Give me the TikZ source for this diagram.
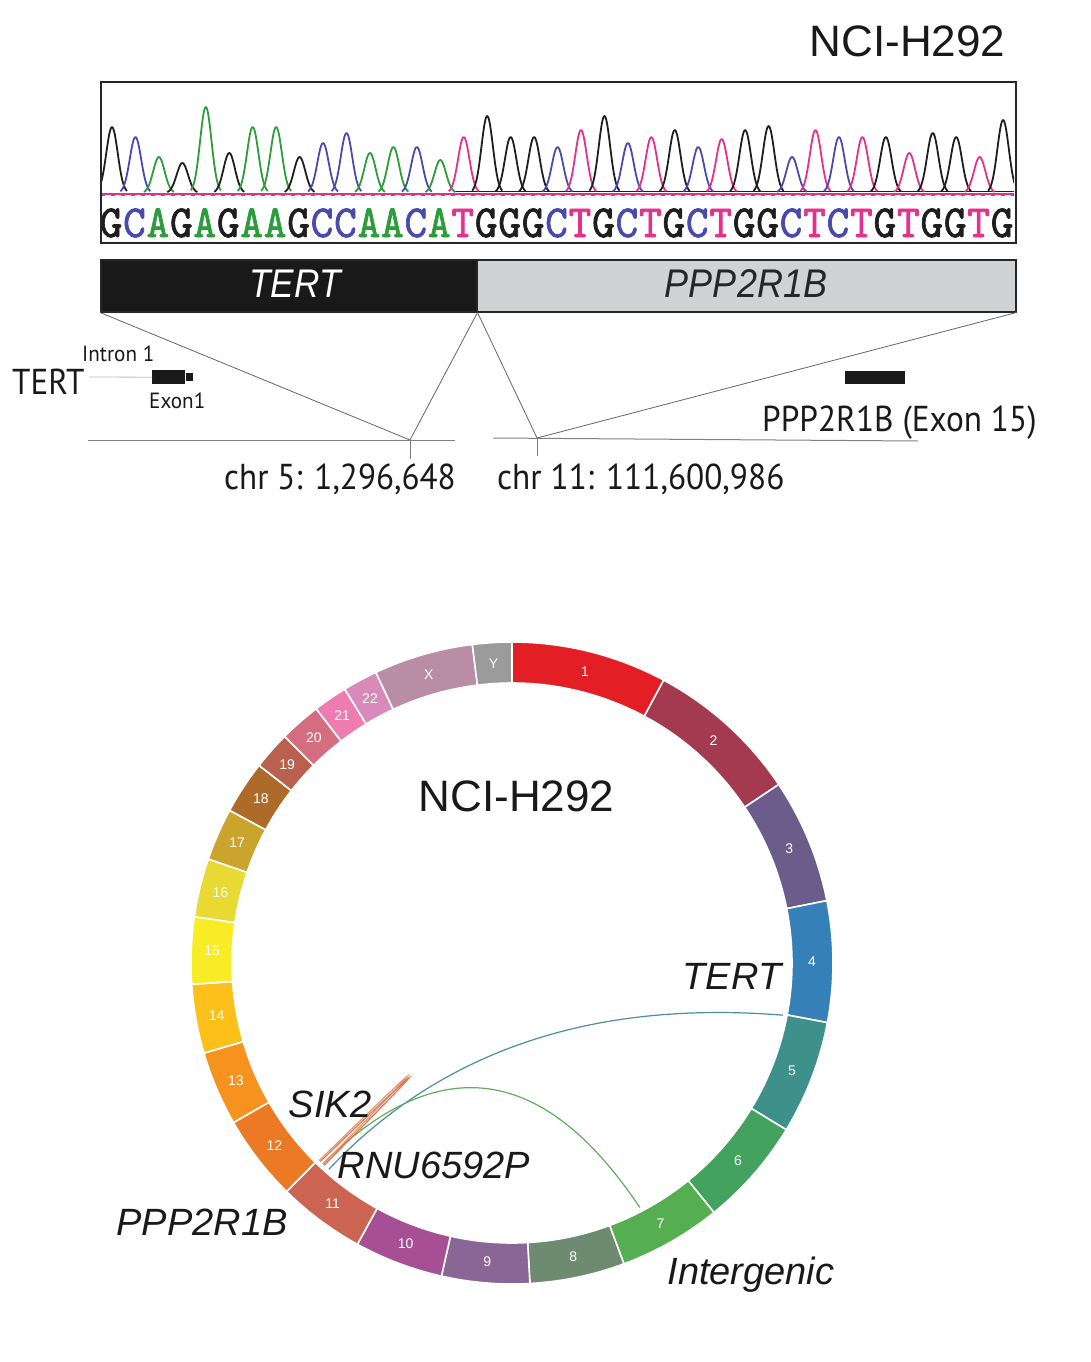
\documentclass[tikz,border=0pt]{standalone}
\usepackage{fontspec}
\setmainfont{Liberation Sans}
\newfontfamily\myr{PT Sans}
\newfontfamily\seqf{lmmono10-regular}[Extension=.otf, FakeBold=1.6]
\usetikzlibrary{calc}
\definecolor{tG}{HTML}{1E1E1E}
\definecolor{tC}{HTML}{4A4AAE}
\definecolor{tA}{HTML}{2C9C3C}
\definecolor{tT}{HTML}{E5318B}
\definecolor{barg}{HTML}{D1D2D4}
\definecolor{k1}{HTML}{E31E24}
\definecolor{k2}{HTML}{A43A50}
\definecolor{k3}{HTML}{6C5C8C}
\definecolor{k4}{HTML}{3580B8}
\definecolor{k5}{HTML}{3D918A}
\definecolor{k6}{HTML}{43A35E}
\definecolor{k7}{HTML}{55AE4F}
\definecolor{k8}{HTML}{6E8A70}
\definecolor{k9}{HTML}{8A6696}
\definecolor{k10}{HTML}{A64F94}
\definecolor{k11}{HTML}{CB6552}
\definecolor{k12}{HTML}{EC7A24}
\definecolor{k13}{HTML}{F6921E}
\definecolor{k14}{HTML}{FDBF19}
\definecolor{k15}{HTML}{F8EC24}
\definecolor{k16}{HTML}{E8DA32}
\definecolor{k17}{HTML}{CBA42E}
\definecolor{k18}{HTML}{AE6A28}
\definecolor{k19}{HTML}{B9614E}
\definecolor{k20}{HTML}{D46D80}
\definecolor{k21}{HTML}{EE7CB0}
\definecolor{k22}{HTML}{D88ABA}
\definecolor{kX}{HTML}{B98DA6}
\definecolor{kY}{HTML}{9B9B9B}
\definecolor{lnkteal}{HTML}{4A8F9C}
\definecolor{lnkgreen}{HTML}{62AE5C}
\definecolor{lnkred}{HTML}{DD7458}
\definecolor{lnkorange}{HTML}{E39A62}
\begin{document}
\begin{tikzpicture}[x=1pt,y=-1pt,
  trc/.style={line width=1.8pt, line join=round},
  seqch/.style={inner sep=0pt, anchor=base, font=\seqf\fontsize{41}{41}\selectfont},
  chrlab/.style={inner sep=0pt, text=white, font=\fontsize{14}{14}\selectfont},
  thinl/.style={draw=black!60, line width=0.8pt},
  hline/.style={draw=black!50, line width=1pt},
  lnk/.style={line width=1.2pt},
  big/.style={inner sep=0pt, anchor=base, font=\fontsize{44}{50}\selectfont, text=black!90},
  ital/.style={inner sep=0pt, anchor=base, font=\itshape\fontsize{38}{44}\selectfont, text=black!90},
  bartxt/.style={inner sep=0pt, anchor=base, font=\itshape\fontsize{40}{44}\selectfont},
  my36/.style={inner sep=0pt, anchor=base west, font=\myr\fontsize{36}{40}\selectfont, text=black!90},
  my22/.style={inner sep=0pt, anchor=base west, font=\myr\fontsize{22}{26}\selectfont, text=black!90}]
\useasboundingbox (0,0) rectangle (1090,1362);
\fill[white] (0,0) rectangle (1090,1362);

% ---------- top title
\node[big] (title1) at (907.5,57) {NCI-H292};

% ---------- chromatogram
\begin{scope}
\clip (101,82) rectangle (1014,241);
\draw[tT, line width=2.2pt] (101,194) -- (1014,194);
\draw[tA, line width=1.4pt, dash pattern=on 4pt off 6pt] (101,195.5) -- (1014,195.5);
\draw[tG, line width=1.3pt] (455,191.5) -- (1014,191.5);
\foreach \t/\c [count=\i from 0] in {127/tG,137/tC,157/tA,163/tG,107/tA,153/tG,127/tA,127/tA,157/tG,143/tC,133/tC,153/tA,147/tA,147/tC,160/tA,137/tT,116/tG,137/tG,137/tG,147/tC,130/tT,116/tG,143/tC,137/tT,130/tG,147/tC,139/tT,130/tG,126/tG,157/tC,130/tT,137/tC,137/tT,137/tG,153/tT,133/tG,137/tG,157/tT,120/tG}
{
  \draw[\c, trc] plot[domain=-15:15, samples=31, smooth] ({112+23.45*\i+\x}, {193-(193-\t)*exp(0-(\x)*(\x)/65)});
}
\end{scope}
\foreach \s/\c [count=\i from 0] in {G/tG,C/tC,A/tA,G/tG,A/tA,G/tG,A/tA,A/tA,G/tG,C/tC,C/tC,A/tA,A/tA,C/tC,A/tA,T/tT,G/tG,G/tG,G/tG,C/tC,T/tT,G/tG,C/tC,T/tT,G/tG,C/tC,T/tT,G/tG,G/tG,C/tC,T/tT,C/tC,T/tT,G/tG,T/tT,G/tG,G/tG,T/tT,G/tG}
{
  \node[seqch, text=\c] (s\i) at ({111+23.45*\i}, 237) {\scalebox{1.05}[1.12]{\s}};
}
\node[draw=black!85, line width=2pt, minimum width=915pt, minimum height=161pt, inner sep=0pt, anchor=north west] (chromo) at (100,81) {};

% ---------- fusion bar
\node[draw=black!85, fill=black!90, line width=1.5pt, minimum width=376pt, minimum height=52pt, inner sep=0pt, anchor=north west] (tertbar) at (100,259) {};
\node[draw=black!85, fill=barg, line width=1.5pt, minimum width=539pt, minimum height=52pt, inner sep=0pt, anchor=north west] (pppbar) at (476,259) {};
\node[bartxt, text=white] (tertbartxt) at (295,297) {\scalebox{0.88}[1]{TERT}};
\node[bartxt, text=black!85] (pppbartxt) at (746,297) {\scalebox{0.9}[1]{PPP2R1B}};

% ---------- genomic coordinates
\coordinate (bp5) at (410,440);
\coordinate (bp11) at (537,438);
\draw[thinl] (tertbar.south west) -- (bp5);
\draw[thinl] (tertbar.south east) -- (bp5);
\draw[thinl] (tertbar.south east) -- (bp11);
\draw[thinl] (pppbar.south east) -- (bp11);
\coordinate (h5a) at (88,440);
\coordinate (h5b) at (455,440);
\coordinate (h11a) at (493,438);
\coordinate (h11b) at (918,441);
\draw[hline] (h5a) -- (h5b);
\draw[hline] (h11a) -- (h11b);
\coordinate (t5) at (410,459);
\coordinate (t11) at (537,456);
\draw[hline] (bp5) -- (t5);
\draw[hline] (bp11) -- (t11);

\node[my22] (intron) at (82,361) {\scalebox{0.96}[1]{Intron 1}};
\node[my36] (tertgene) at (12,394) {\scalebox{0.92}[1]{TERT}};
\node[fill=black!90, minimum width=33pt, minimum height=14pt, inner sep=0pt, anchor=north west] (exon1) at (152,370) {};
\node[fill=black!90, minimum width=7pt, minimum height=8pt, inner sep=0pt, anchor=west] (exon1b) at (exon1.east) {};
\coordinate (tline) at (89,377);
\draw[draw=black!25, line width=0.8pt] (tline) -- (exon1.west);
\node[my22] (exonlbl) at (149,408) {\scalebox{0.96}[1]{Exon1}};
\node[fill=black!90, minimum width=60pt, minimum height=13pt, inner sep=0pt, anchor=north west] (exon15) at (845,371) {};
\node[my36] (ppplbl) at (762,431) {\scalebox{0.925}[1]{PPP2R1B (Exon 15)}};
\node[my36] (chr5lbl) at (224,489) {\scalebox{0.92}[1]{chr 5: 1,296,648}};
\node[my36] (chr11lbl) at (497,489) {\scalebox{0.925}[1]{chr 11: 111,600,986}};

% ---------- circos plot
\begin{scope}[shift={(512,963)}]
\foreach \a/\b/\c/\l in {0/28.2/k1/1, 28.2/56.2/k2/2, 56.2/78.8/k3/3, 78.8/100.7/k4/4, 100.7/121.3/k5/5, 121.3/141.0/k6/6, 141.0/159.6/k7/7, 159.6/176.8/k8/8, 176.8/192.7/k9/9, 192.7/208.8/k10/10, 208.8/224.6/k11/11, 224.6/240.2/k12/12, 240.2/253.7/k13/13, 253.7/266.2/k14/14, 266.2/278.3/k15/15, 278.3/288.9/k16/16, 288.9/298.4/k17/17, 298.4/308.0/k18/18, 308.0/314.9/k19/19, 314.9/322.4/k20/20, 322.4/328.6/k21/21, 328.6/334.9/k22/22, 334.9/352.9/kX/X, 352.9/360/kY/Y}
{
  \fill[\c, draw=white, line width=1.6pt] ({\a-90}:280) arc[start angle={\a-90}, end angle={\b-90}, radius=280] -- ({\b-90}:321) arc[start angle={\b-90}, end angle={\a-90}, radius=321] -- cycle;
  \node[chrlab] (chr\l) at ({(\a+\b)/2-90}:300) {\l};
}
\coordinate (e5) at (10.9:276);
\coordinate (e7) at (62.4:276);
\coordinate (e11t) at (131.6:276);
\coordinate (e11g) at (133.3:276);
\coordinate (e11r) at (132.9:276);
\coordinate (e11s) at (134.0:276);
\coordinate (e11u) at (133.2:276);
\coordinate (e11v) at (134.3:276);
\end{scope}
\coordinate (cc) at (496,992);
\coordinate (cc2) at (494,990);
\draw[lnk, lnkteal] (e11t) .. controls ($(e11t)!0.6667!(cc)$) and ($(e5)!0.6667!(cc)$) .. (e5);
\draw[lnk, lnkgreen] (e11g) .. controls ($(e11g)!0.6667!(cc)$) and ($(e7)!0.6667!(cc)$) .. (e7);
\draw[lnk, lnkorange] (e11u) .. controls ($(e11u)!0.6667!(cc2)$) and ($(e11v)!0.6667!(cc2)$) .. (e11v);
\draw[lnk, lnkred] (e11r) .. controls ($(e11r)!0.6667!(cc)$) and ($(e11s)!0.6667!(cc)$) .. (e11s);

\node[big] (title2) at (516.5,811) {NCI-H292};
\node[ital] (tertc) at (732,989) {TERT};
\node[ital] (sik2) at (330,1117) {SIK2};
\node[ital] (rnu) at (434,1178) {RNU6592P};
\node[ital] (pppc) at (202,1235) {PPP2R1B};
\node[ital] (interg) at (751,1284) {Intergenic};
\end{tikzpicture}
\end{document}
